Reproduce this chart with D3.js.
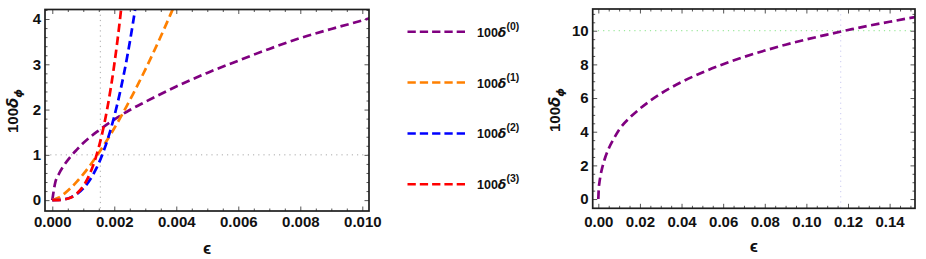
<!DOCTYPE html>
<html><head><meta charset="utf-8">
<script src="https://cdn.jsdelivr.net/npm/d3@7"></script>
<style>
body{margin:0;background:#fff}
text{font-family:"Liberation Sans",Arial,sans-serif;font-weight:bold;fill:#111}
</style>
</head><body>
<svg id="chart" width="926" height="259"></svg>
<script>
// ---------- data ----------
const epsGrid = [0,0.0002,0.0004,0.0006,0.0008,0.001,0.0012,0.0014,0.0016,0.0018,0.002,
                 0.0022,0.0024,0.0026,0.0028,0.003,0.0032,0.0034,0.0036,0.0038,0.004];
const delta1 = [0,0.054,0.149,0.271,0.413,0.573,0.750,0.940,1.144,1.360,1.588,
                1.827,2.077,2.336,2.605,2.883,3.170,3.465,3.769,4.081,4.400];
const delta2 = [0,0.003,0.019,0.061,0.137,0.259,0.434,0.672,0.982,1.373,1.852,
                2.427,3.107,3.900,4.820,5.860];
const delta3 = [0,0.002,0.016,0.058,0.150,0.310,0.564,0.933,1.444,2.122,2.995,4.090,5.440];

const epsLeft0   = [0,0.0001,0.0002,0.0004,0.0006,0.0008,0.001,0.0015,0.002,0.0025,0.003,
                    0.004,0.005,0.006,0.007,0.008,0.009,0.010,0.0103];
const delta0Left = [0,0.40,0.56,0.79,0.97,1.12,1.26,1.54,1.78,1.99,2.17,
                    2.51,2.81,3.08,3.34,3.58,3.78,3.97,4.03];

const epsRight    = [0,0.0002,0.0005,0.001,0.002,0.003,0.005,0.0075,0.01,0.015,0.02,
                     0.03,0.04,0.05,0.06,0.07,0.08,0.09,0.10,0.11,0.12,0.13,0.14,0.15,0.153];
const delta0Right = [0,0.60,0.95,1.35,1.92,2.35,3.00,3.60,4.12,4.82,5.37,
                     6.26,6.95,7.52,8.01,8.44,8.82,9.17,9.48,9.77,10.04,10.30,10.53,10.76,10.82];

const leftXTicks  = [0,0.002,0.004,0.006,0.008,0.010];
const leftYTicks  = [0,1,2,3,4];
const rightXTicks = [0,0.02,0.04,0.06,0.08,0.10,0.12,0.14];
const rightYTicks = [0,2,4,6,8,10];
const legendOrders = ["(0)","(1)","(2)","(3)"];
const seriesColors = ["#800080","#ff8000","#0000ff","#ff0000"];

const leftMarkEps = 0.00155, leftMarkDelta = 1;
const rightMarkEps = 0.1165, rightMarkDelta = 10;

// ---------- drawing ----------
const svg = d3.select("#chart");

function panel(id, box, xDom, yDom, xTicks, yTicks, xFmt, xMinorStep, yMinorStep, labelPad) {
  const x = d3.scaleLinear().domain(xDom).range([box.l, box.r]);
  const y = d3.scaleLinear().domain(yDom).range([box.b, box.t]);
  const g = svg.append("g");
  g.append("clipPath").attr("id", id).append("rect")
    .attr("x", box.l).attr("y", box.t).attr("width", box.r - box.l).attr("height", box.b - box.t);

  const xMinor = d3.range(0, xDom[1] + 1e-9, xMinorStep).filter(v => !xTicks.some(t => Math.abs(t - v) < 1e-9));
  const yMinor = d3.range(0, yDom[1] + 1e-9, yMinorStep).filter(v => !yTicks.some(t => Math.abs(t - v) < 1e-9));

  const addAxis = (gen, tr, vals, size, fmt, pad) => {
    const a = g.append("g").attr("transform", tr)
      .call(gen.tickValues(vals).tickSize(size).tickSizeOuter(0).tickPadding(pad).tickFormat(fmt));
    a.select(".domain").remove();
    a.attr("font-family", null).attr("font-size", null);
    a.selectAll("line").attr("stroke", "#555").attr("stroke-width", 1);
    a.selectAll("text").attr("font-size", 15).attr("font-family", "Liberation Sans, Arial, sans-serif")
      .attr("font-weight", "bold").attr("fill", "#111");
    return a;
  };
  const none = () => "";
  addAxis(d3.axisBottom(x), `translate(0,${box.b})`, xTicks, -4.5, xFmt, labelPad);
  addAxis(d3.axisBottom(x), `translate(0,${box.b})`, xMinor, -2.5, none, 0);
  addAxis(d3.axisTop(x), `translate(0,${box.t})`, xTicks, -4.5, none, 0);
  addAxis(d3.axisTop(x), `translate(0,${box.t})`, xMinor, -2.5, none, 0);
  addAxis(d3.axisLeft(y), `translate(${box.l},0)`, yTicks, -4.5, d3.format("d"), 4);
  addAxis(d3.axisLeft(y), `translate(${box.l},0)`, yMinor, -2.5, none, 0);
  addAxis(d3.axisRight(y), `translate(${box.r},0)`, yTicks, -4.5, none, 0);
  addAxis(d3.axisRight(y), `translate(${box.r},0)`, yMinor, -2.5, none, 0);

  const plot = g.append("g").attr("clip-path", `url(#${id})`);
  return {x, y, g, plot, box};
}

function drawCurve(p, xs, ys, color) {
  const line = d3.line().x((d, i) => p.x(xs[i])).y(d => p.y(d)).curve(d3.curveMonotoneX);
  p.plot.append("path").datum(ys).attr("d", line)
    .attr("fill", "none").attr("stroke", color).attr("stroke-width", 2.7)
    .attr("stroke-dasharray", "8.5,4.5");
}

function frame(p) {
  const b = p.box;
  p.g.append("rect").attr("x", b.l).attr("y", b.t).attr("width", b.r - b.l).attr("height", b.b - b.t)
    .attr("fill", "none").attr("stroke", "#1e1e1e").attr("stroke-width", 1.7);
}

function yTitle(x, y) {
  const t = svg.append("text").attr("transform", `translate(${x},${y}) rotate(-90)`)
    .attr("text-anchor", "middle").attr("font-size", 15);
  t.append("tspan").text("100");
  t.append("tspan").attr("font-style", "italic").attr("font-family", "DejaVu Sans").attr("font-size", 15).text("δ");
  t.append("tspan").attr("font-style", "italic").attr("font-family", "DejaVu Sans").attr("font-size", 11).attr("dy", 4).text("ϕ");
}

// Left panel
const L = panel("clipL", {l:45, r:369, t:9.5, b:211}, [-0.000235, 0.010216], [-0.24, 4.21],
                leftXTicks, leftYTicks, d3.format(".3f"), 0.0005, 0.2, 5);
L.plot.append("line").attr("x1", L.x(leftMarkEps)).attr("x2", L.x(leftMarkEps))
  .attr("y1", L.box.t).attr("y2", L.box.b).attr("stroke", "#aaa").attr("stroke-width", 1).attr("stroke-dasharray", "1.2,4");
L.plot.append("line").attr("x1", L.box.l).attr("x2", L.box.r)
  .attr("y1", L.y(leftMarkDelta)).attr("y2", L.y(leftMarkDelta)).attr("stroke", "#aaa").attr("stroke-width", 1).attr("stroke-dasharray", "1.2,4");
drawCurve(L, epsLeft0, delta0Left, seriesColors[0]);
drawCurve(L, epsGrid, delta1, seriesColors[1]);
drawCurve(L, epsGrid, delta2, seriesColors[2]);
drawCurve(L, epsGrid, delta3, seriesColors[3]);
frame(L);

// Right panel
const R = panel("clipR", {l:592.7, r:915, t:9, b:208.3}, [-0.0027, 0.1522], [-0.55, 11.29],
                rightXTicks, rightYTicks, d3.format(".2f"), 0.005, 0.5, 8);
R.plot.append("line").attr("x1", R.x(rightMarkEps)).attr("x2", R.x(rightMarkEps))
  .attr("y1", R.box.t).attr("y2", R.box.b).attr("stroke", "#c9c9f0").attr("stroke-width", 1).attr("stroke-dasharray", "1.2,4");
R.plot.append("line").attr("x1", R.box.l).attr("x2", R.box.r)
  .attr("y1", R.y(rightMarkDelta)).attr("y2", R.y(rightMarkDelta)).attr("stroke", "#9ee89e").attr("stroke-width", 1.2).attr("stroke-dasharray", "1.2,4");
drawCurve(R, epsRight, delta0Right, seriesColors[0]);
frame(R);

// Axis titles
svg.append("text").attr("x", (L.box.l + L.box.r) / 2).attr("y", 254).attr("text-anchor", "middle")
  .attr("font-size", 17).attr("font-family", "DejaVu Sans").text("ϵ");
svg.append("text").attr("x", (R.box.l + R.box.r) / 2).attr("y", 252).attr("text-anchor", "middle")
  .attr("font-size", 17).attr("font-family", "DejaVu Sans").text("ϵ");
yTitle(18, 111);
yTitle(560, 110);

// Legend
const legY = d3.scalePoint().domain(legendOrders).range([31.7, 184.3]);
legendOrders.forEach((o, i) => {
  const yy = legY(o);
  svg.append("line").attr("x1", 407.5).attr("x2", 465).attr("y1", yy).attr("y2", yy)
    .attr("stroke", seriesColors[i]).attr("stroke-width", 2.6).attr("stroke-dasharray", "8.3,4");
  const t = svg.append("text").attr("x", 477).attr("y", yy + 5).attr("font-size", 12.5);
  t.append("tspan").text("100");
  t.append("tspan").attr("font-style", "italic").attr("font-family", "DejaVu Sans").text("δ");
  t.append("tspan").attr("font-size", 10.5).attr("dy", -7).text(o);
});
</script>
</body></html>
